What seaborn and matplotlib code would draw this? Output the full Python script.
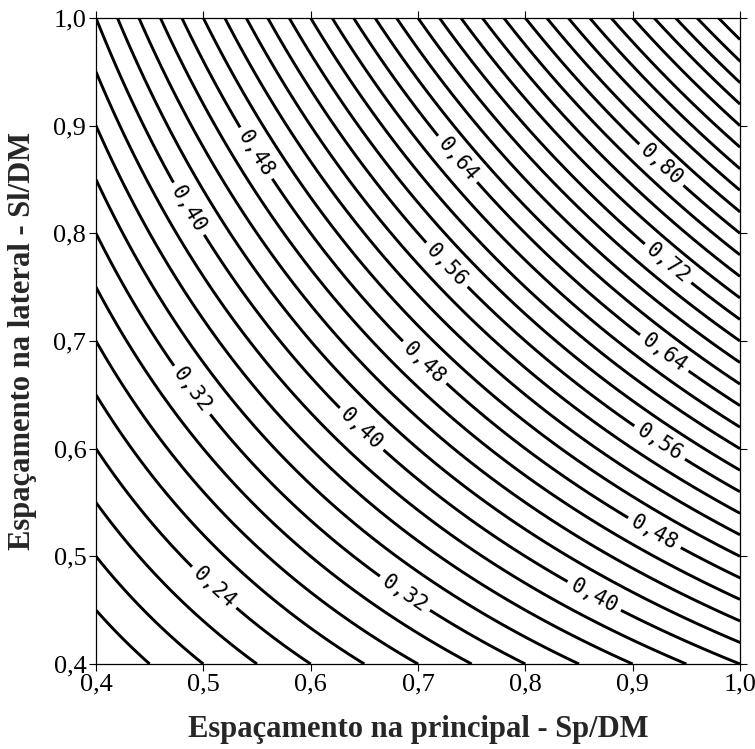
import numpy as np
import matplotlib
matplotlib.use("Agg")
import matplotlib.pyplot as plt
import seaborn as sns

# --- data ---
sp = np.linspace(0.4, 1.0, 121)          # Sp/DM
sl = np.linspace(0.4, 1.0, 121)          # Sl/DM
contour_levels = [round(0.16 + 0.02 * i, 2) for i in range(43)]
label_levels = [0.24, 0.32, 0.40, 0.48, 0.56, 0.64, 0.72, 0.80]
label_spots = [(0.55, 0.875), (0.485, 0.822), (0.738, 0.870), (0.928, 0.865),
               (0.725, 0.769), (0.927, 0.765), (0.706, 0.680), (0.928, 0.687),
               (0.497, 0.660), (0.651, 0.622), (0.928, 0.610), (0.922, 0.525),
               (0.688, 0.466), (0.863, 0.461), (0.508, 0.469)]
tick_values = [0.4, 0.5, 0.6, 0.7, 0.8, 0.9, 1.0]
tick_labels = ["0,4", "0,5", "0,6", "0,7", "0,8", "0,9", "1,0"]

X, Y = np.meshgrid(sp, sl)
Z = X * Y

sns.set_theme(style="ticks")
plt.rcParams["font.family"] = ["Liberation Serif", "DejaVu Serif"]

fig = plt.figure(figsize=(7.55, 7.49), dpi=100)
ax = fig.add_axes([96 / 755, 1 - 664 / 749, 644 / 755, 646 / 749])

# plain lines and labelled lines as two sets (clabel manual needs this)
plain = [v for v in contour_levels if v not in label_levels]
ax.contour(X, Y, Z, levels=plain, colors="black", linewidths=2.1)
cs = ax.contour(X, Y, Z, levels=label_levels, colors="black", linewidths=2.1)
lbl = ax.clabel(cs, manual=label_spots, inline=True,
                inline_spacing=12, fontsize=15,
                fmt=lambda v: f"{v:.2f}".replace(".", ","))
for t in lbl:
    t.set_fontfamily(["DejaVu Sans Mono", "DejaVu Sans"])

ax.set_xlim(0.4, 1.0)
ax.set_ylim(0.4, 1.0)
ax.set_xticks(tick_values)
ax.set_xticklabels(tick_labels)
ax.set_yticks(tick_values)
ax.set_yticklabels(tick_labels)
ax.tick_params(direction="out", length=5, width=0.8, labelsize=19,
               top=True, right=True, colors="black", pad=2)
for s in ax.spines.values():
    s.set_linewidth(0.9)
    s.set_color("black")

ax.set_xlabel("Espaçamento na principal - Sp/DM", fontsize=22,
              fontweight="bold", labelpad=14)
ax.set_ylabel("Espaçamento na lateral - Sl/DM", fontsize=22,
              fontweight="bold", labelpad=12)

fig.savefig("out.png", dpi=100)
